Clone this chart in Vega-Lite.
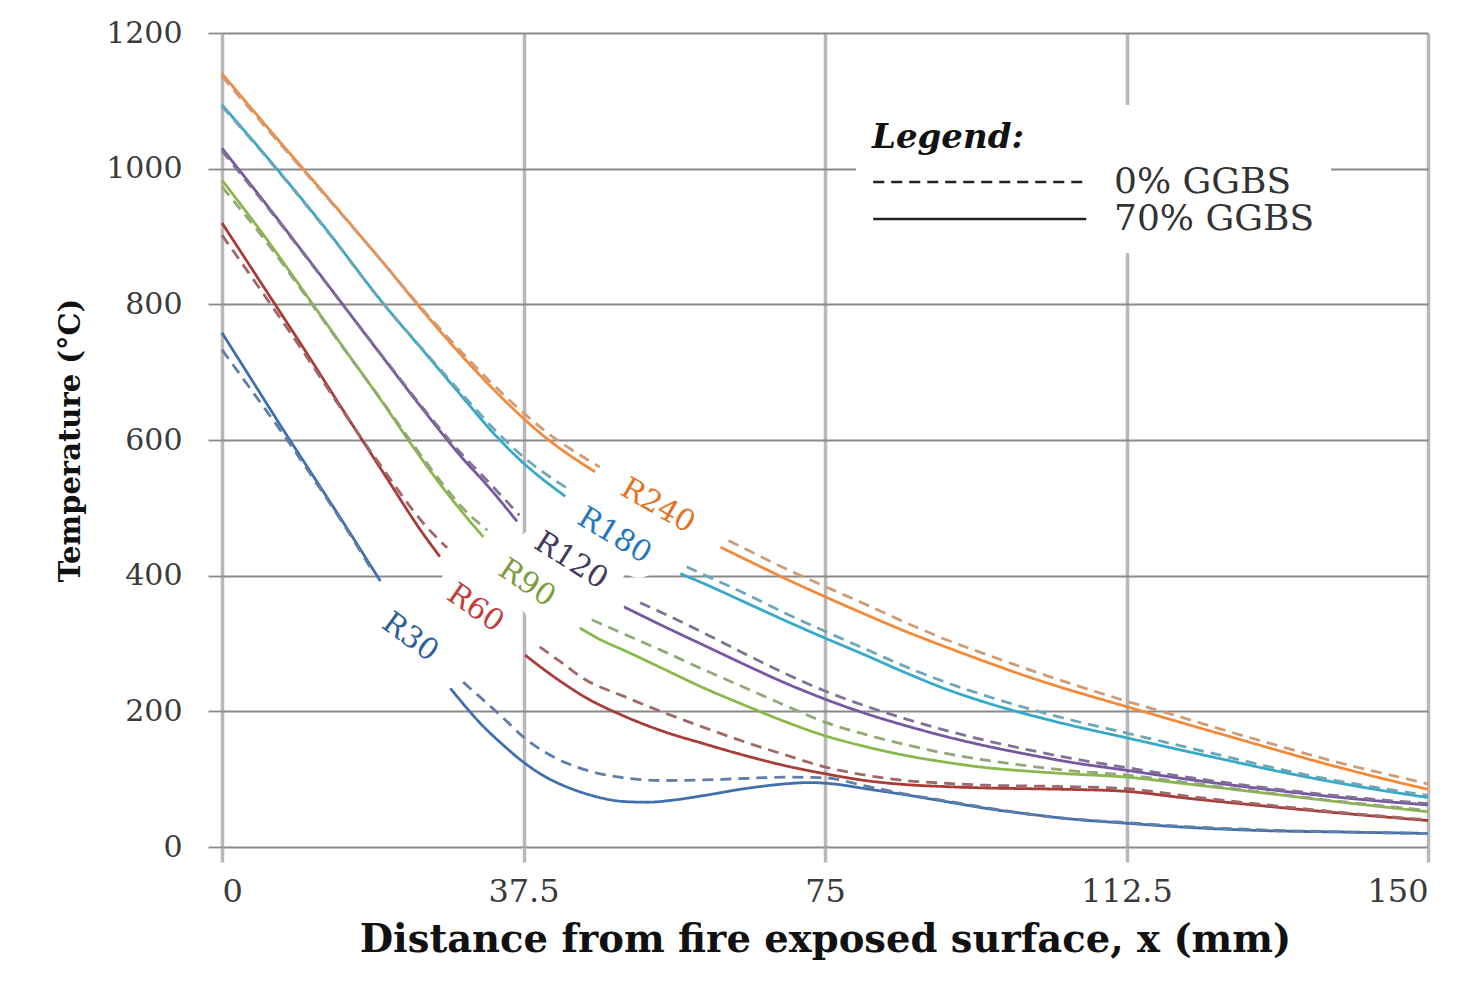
{
  "$schema": "https://vega.github.io/schema/vega-lite/v6.json",
  "width": 1206,
  "height": 814,
  "autosize": {"type": "none"},
  "padding": {"left": 222, "top": 33, "right": 50, "bottom": 141},
  "background": "white",
  "config": {
    "view": {"stroke": null},
    "font": "DejaVu Serif",
    "axisX": {
      "grid": true,
      "gridColor": "#b8b8b8",
      "gridWidth": 3.5,
      "tickColor": "#b8b8b8",
      "tickWidth": 3.5,
      "tickSize": 15,
      "domain": false,
      "labelFont": "DejaVu Serif",
      "labelFontSize": 32,
      "labelColor": "#3a3a3a",
      "labelPadding": 14,
      "titleFont": "DejaVu Serif",
      "titleFontSize": 38.5,
      "titleFontWeight": "bold",
      "titleColor": "#111111",
      "titlePadding": 14
    },
    "axisY": {
      "grid": true,
      "gridColor": "#8a8a8a",
      "gridWidth": 1.8,
      "tickColor": "#8a8a8a",
      "tickWidth": 1.8,
      "tickSize": 14,
      "domain": false,
      "labelFont": "DejaVu Serif",
      "labelFontSize": 30,
      "labelColor": "#3a3a3a",
      "labelPadding": 26,
      "titleFont": "DejaVu Serif",
      "titleFontSize": 29,
      "titleFontWeight": "bold",
      "titleColor": "#111111",
      "titlePadding": 20
    }
  },
  "datasets": {
    "labels": [
      {"s": "R240", "x": 54.2, "t": 503},
      {"s": "R180", "x": 48.8, "t": 459},
      {"s": "R120", "x": 43.4, "t": 422},
      {"s": "R90", "x": 37.9, "t": 389},
      {"s": "R60", "x": 31.5, "t": 352},
      {"s": "R30", "x": 23.4, "t": 309}
    ],
    "curves": [
      {"s": "R240", "m": "70% GGBS", "g": 1, "x": 0, "t": 1140},
      {"s": "R240", "m": "70% GGBS", "g": 1, "x": 5, "t": 1070},
      {"s": "R240", "m": "70% GGBS", "g": 1, "x": 10, "t": 1001},
      {"s": "R240", "m": "70% GGBS", "g": 1, "x": 15, "t": 932},
      {"s": "R240", "m": "70% GGBS", "g": 1, "x": 20, "t": 862},
      {"s": "R240", "m": "70% GGBS", "g": 1, "x": 25, "t": 790},
      {"s": "R240", "m": "70% GGBS", "g": 1, "x": 30, "t": 722},
      {"s": "R240", "m": "70% GGBS", "g": 1, "x": 35, "t": 660},
      {"s": "R240", "m": "70% GGBS", "g": 1, "x": 40, "t": 606},
      {"s": "R240", "m": "70% GGBS", "g": 1, "x": 46.4, "t": 553},
      {"s": "R240", "m": "0% GGBS", "g": 1, "x": 0, "t": 1136},
      {"s": "R240", "m": "0% GGBS", "g": 1, "x": 5, "t": 1067},
      {"s": "R240", "m": "0% GGBS", "g": 1, "x": 10, "t": 999},
      {"s": "R240", "m": "0% GGBS", "g": 1, "x": 15, "t": 931},
      {"s": "R240", "m": "0% GGBS", "g": 1, "x": 20, "t": 862},
      {"s": "R240", "m": "0% GGBS", "g": 1, "x": 25, "t": 792},
      {"s": "R240", "m": "0% GGBS", "g": 1, "x": 30, "t": 727},
      {"s": "R240", "m": "0% GGBS", "g": 1, "x": 35, "t": 667},
      {"s": "R240", "m": "0% GGBS", "g": 1, "x": 40, "t": 615},
      {"s": "R240", "m": "0% GGBS", "g": 1, "x": 47, "t": 560},
      {"s": "R240", "m": "70% GGBS", "g": 2, "x": 62, "t": 442},
      {"s": "R240", "m": "70% GGBS", "g": 2, "x": 66, "t": 419},
      {"s": "R240", "m": "70% GGBS", "g": 2, "x": 70, "t": 396},
      {"s": "R240", "m": "70% GGBS", "g": 2, "x": 75, "t": 369},
      {"s": "R240", "m": "70% GGBS", "g": 2, "x": 80, "t": 343},
      {"s": "R240", "m": "70% GGBS", "g": 2, "x": 85, "t": 318},
      {"s": "R240", "m": "70% GGBS", "g": 2, "x": 90, "t": 295},
      {"s": "R240", "m": "70% GGBS", "g": 2, "x": 95, "t": 273},
      {"s": "R240", "m": "70% GGBS", "g": 2, "x": 100, "t": 252},
      {"s": "R240", "m": "70% GGBS", "g": 2, "x": 105, "t": 233},
      {"s": "R240", "m": "70% GGBS", "g": 2, "x": 112.5, "t": 207},
      {"s": "R240", "m": "70% GGBS", "g": 2, "x": 120, "t": 181},
      {"s": "R240", "m": "70% GGBS", "g": 2, "x": 125, "t": 164},
      {"s": "R240", "m": "70% GGBS", "g": 2, "x": 130, "t": 147},
      {"s": "R240", "m": "70% GGBS", "g": 2, "x": 135, "t": 130},
      {"s": "R240", "m": "70% GGBS", "g": 2, "x": 140, "t": 114},
      {"s": "R240", "m": "70% GGBS", "g": 2, "x": 145, "t": 99},
      {"s": "R240", "m": "70% GGBS", "g": 2, "x": 150, "t": 85},
      {"s": "R240", "m": "0% GGBS", "g": 2, "x": 63, "t": 452},
      {"s": "R240", "m": "0% GGBS", "g": 2, "x": 66, "t": 434},
      {"s": "R240", "m": "0% GGBS", "g": 2, "x": 70, "t": 411},
      {"s": "R240", "m": "0% GGBS", "g": 2, "x": 75, "t": 384},
      {"s": "R240", "m": "0% GGBS", "g": 2, "x": 80, "t": 358},
      {"s": "R240", "m": "0% GGBS", "g": 2, "x": 85, "t": 331},
      {"s": "R240", "m": "0% GGBS", "g": 2, "x": 90, "t": 306},
      {"s": "R240", "m": "0% GGBS", "g": 2, "x": 95, "t": 284},
      {"s": "R240", "m": "0% GGBS", "g": 2, "x": 100, "t": 263},
      {"s": "R240", "m": "0% GGBS", "g": 2, "x": 105, "t": 243},
      {"s": "R240", "m": "0% GGBS", "g": 2, "x": 112.5, "t": 215},
      {"s": "R240", "m": "0% GGBS", "g": 2, "x": 120, "t": 189},
      {"s": "R240", "m": "0% GGBS", "g": 2, "x": 125, "t": 171},
      {"s": "R240", "m": "0% GGBS", "g": 2, "x": 130, "t": 154},
      {"s": "R240", "m": "0% GGBS", "g": 2, "x": 135, "t": 137},
      {"s": "R240", "m": "0% GGBS", "g": 2, "x": 140, "t": 121},
      {"s": "R240", "m": "0% GGBS", "g": 2, "x": 145, "t": 107},
      {"s": "R240", "m": "0% GGBS", "g": 2, "x": 150, "t": 93},

      {"s": "R180", "m": "70% GGBS", "g": 1, "x": 0, "t": 1094},
      {"s": "R180", "m": "70% GGBS", "g": 1, "x": 6.8, "t": 1000},
      {"s": "R180", "m": "70% GGBS", "g": 1, "x": 13, "t": 910},
      {"s": "R180", "m": "70% GGBS", "g": 1, "x": 20, "t": 802},
      {"s": "R180", "m": "70% GGBS", "g": 1, "x": 25, "t": 732},
      {"s": "R180", "m": "70% GGBS", "g": 1, "x": 30, "t": 662},
      {"s": "R180", "m": "70% GGBS", "g": 1, "x": 34, "t": 607},
      {"s": "R180", "m": "70% GGBS", "g": 1, "x": 37.5, "t": 566},
      {"s": "R180", "m": "70% GGBS", "g": 1, "x": 42.7, "t": 517},
      {"s": "R180", "m": "0% GGBS", "g": 1, "x": 0, "t": 1092},
      {"s": "R180", "m": "0% GGBS", "g": 1, "x": 6.8, "t": 999},
      {"s": "R180", "m": "0% GGBS", "g": 1, "x": 13, "t": 909},
      {"s": "R180", "m": "0% GGBS", "g": 1, "x": 20, "t": 802},
      {"s": "R180", "m": "0% GGBS", "g": 1, "x": 25, "t": 733},
      {"s": "R180", "m": "0% GGBS", "g": 1, "x": 30, "t": 666},
      {"s": "R180", "m": "0% GGBS", "g": 1, "x": 34, "t": 614},
      {"s": "R180", "m": "0% GGBS", "g": 1, "x": 37.5, "t": 575},
      {"s": "R180", "m": "0% GGBS", "g": 1, "x": 43.3, "t": 526},
      {"s": "R180", "m": "70% GGBS", "g": 2, "x": 57, "t": 403},
      {"s": "R180", "m": "70% GGBS", "g": 2, "x": 60, "t": 388},
      {"s": "R180", "m": "70% GGBS", "g": 2, "x": 65, "t": 361},
      {"s": "R180", "m": "70% GGBS", "g": 2, "x": 70, "t": 334},
      {"s": "R180", "m": "70% GGBS", "g": 2, "x": 75, "t": 308},
      {"s": "R180", "m": "70% GGBS", "g": 2, "x": 80, "t": 283},
      {"s": "R180", "m": "70% GGBS", "g": 2, "x": 85, "t": 257},
      {"s": "R180", "m": "70% GGBS", "g": 2, "x": 90, "t": 233},
      {"s": "R180", "m": "70% GGBS", "g": 2, "x": 95, "t": 213},
      {"s": "R180", "m": "70% GGBS", "g": 2, "x": 100, "t": 196},
      {"s": "R180", "m": "70% GGBS", "g": 2, "x": 105, "t": 181},
      {"s": "R180", "m": "70% GGBS", "g": 2, "x": 112.5, "t": 161},
      {"s": "R180", "m": "70% GGBS", "g": 2, "x": 120, "t": 141},
      {"s": "R180", "m": "70% GGBS", "g": 2, "x": 125, "t": 128},
      {"s": "R180", "m": "70% GGBS", "g": 2, "x": 130, "t": 115},
      {"s": "R180", "m": "70% GGBS", "g": 2, "x": 135, "t": 103},
      {"s": "R180", "m": "70% GGBS", "g": 2, "x": 140, "t": 92},
      {"s": "R180", "m": "70% GGBS", "g": 2, "x": 145, "t": 82},
      {"s": "R180", "m": "70% GGBS", "g": 2, "x": 150, "t": 73},
      {"s": "R180", "m": "0% GGBS", "g": 2, "x": 57.8, "t": 413},
      {"s": "R180", "m": "0% GGBS", "g": 2, "x": 60, "t": 401},
      {"s": "R180", "m": "0% GGBS", "g": 2, "x": 65, "t": 374},
      {"s": "R180", "m": "0% GGBS", "g": 2, "x": 70, "t": 345},
      {"s": "R180", "m": "0% GGBS", "g": 2, "x": 75, "t": 318},
      {"s": "R180", "m": "0% GGBS", "g": 2, "x": 80, "t": 292},
      {"s": "R180", "m": "0% GGBS", "g": 2, "x": 85, "t": 266},
      {"s": "R180", "m": "0% GGBS", "g": 2, "x": 90, "t": 243},
      {"s": "R180", "m": "0% GGBS", "g": 2, "x": 95, "t": 223},
      {"s": "R180", "m": "0% GGBS", "g": 2, "x": 100, "t": 205},
      {"s": "R180", "m": "0% GGBS", "g": 2, "x": 105, "t": 189},
      {"s": "R180", "m": "0% GGBS", "g": 2, "x": 112.5, "t": 168},
      {"s": "R180", "m": "0% GGBS", "g": 2, "x": 120, "t": 147},
      {"s": "R180", "m": "0% GGBS", "g": 2, "x": 125, "t": 133},
      {"s": "R180", "m": "0% GGBS", "g": 2, "x": 130, "t": 119},
      {"s": "R180", "m": "0% GGBS", "g": 2, "x": 135, "t": 106},
      {"s": "R180", "m": "0% GGBS", "g": 2, "x": 140, "t": 95},
      {"s": "R180", "m": "0% GGBS", "g": 2, "x": 145, "t": 85},
      {"s": "R180", "m": "0% GGBS", "g": 2, "x": 150, "t": 76},

      {"s": "R120", "m": "70% GGBS", "g": 1, "x": 0, "t": 1030},
      {"s": "R120", "m": "70% GGBS", "g": 1, "x": 5, "t": 955},
      {"s": "R120", "m": "70% GGBS", "g": 1, "x": 10, "t": 878},
      {"s": "R120", "m": "70% GGBS", "g": 1, "x": 15, "t": 800},
      {"s": "R120", "m": "70% GGBS", "g": 1, "x": 20, "t": 722},
      {"s": "R120", "m": "70% GGBS", "g": 1, "x": 25, "t": 645},
      {"s": "R120", "m": "70% GGBS", "g": 1, "x": 30, "t": 572},
      {"s": "R120", "m": "70% GGBS", "g": 1, "x": 33, "t": 533},
      {"s": "R120", "m": "70% GGBS", "g": 1, "x": 36.7, "t": 480},
      {"s": "R120", "m": "0% GGBS", "g": 1, "x": 0, "t": 1026},
      {"s": "R120", "m": "0% GGBS", "g": 1, "x": 5, "t": 953},
      {"s": "R120", "m": "0% GGBS", "g": 1, "x": 10, "t": 877},
      {"s": "R120", "m": "0% GGBS", "g": 1, "x": 15, "t": 800},
      {"s": "R120", "m": "0% GGBS", "g": 1, "x": 20, "t": 723},
      {"s": "R120", "m": "0% GGBS", "g": 1, "x": 25, "t": 647},
      {"s": "R120", "m": "0% GGBS", "g": 1, "x": 30, "t": 577},
      {"s": "R120", "m": "0% GGBS", "g": 1, "x": 33, "t": 540},
      {"s": "R120", "m": "0% GGBS", "g": 1, "x": 37, "t": 489},
      {"s": "R120", "m": "70% GGBS", "g": 2, "x": 50, "t": 354},
      {"s": "R120", "m": "70% GGBS", "g": 2, "x": 55, "t": 325},
      {"s": "R120", "m": "70% GGBS", "g": 2, "x": 60, "t": 297},
      {"s": "R120", "m": "70% GGBS", "g": 2, "x": 65, "t": 269},
      {"s": "R120", "m": "70% GGBS", "g": 2, "x": 70, "t": 242},
      {"s": "R120", "m": "70% GGBS", "g": 2, "x": 75, "t": 218},
      {"s": "R120", "m": "70% GGBS", "g": 2, "x": 80, "t": 197},
      {"s": "R120", "m": "70% GGBS", "g": 2, "x": 85, "t": 179},
      {"s": "R120", "m": "70% GGBS", "g": 2, "x": 90, "t": 163},
      {"s": "R120", "m": "70% GGBS", "g": 2, "x": 95, "t": 149},
      {"s": "R120", "m": "70% GGBS", "g": 2, "x": 100, "t": 137},
      {"s": "R120", "m": "70% GGBS", "g": 2, "x": 105, "t": 126},
      {"s": "R120", "m": "70% GGBS", "g": 2, "x": 112.5, "t": 113},
      {"s": "R120", "m": "70% GGBS", "g": 2, "x": 120, "t": 100},
      {"s": "R120", "m": "70% GGBS", "g": 2, "x": 130, "t": 85},
      {"s": "R120", "m": "70% GGBS", "g": 2, "x": 140, "t": 72},
      {"s": "R120", "m": "70% GGBS", "g": 2, "x": 150, "t": 62},
      {"s": "R120", "m": "0% GGBS", "g": 2, "x": 52, "t": 360},
      {"s": "R120", "m": "0% GGBS", "g": 2, "x": 55, "t": 344},
      {"s": "R120", "m": "0% GGBS", "g": 2, "x": 60, "t": 315},
      {"s": "R120", "m": "0% GGBS", "g": 2, "x": 65, "t": 285},
      {"s": "R120", "m": "0% GGBS", "g": 2, "x": 70, "t": 256},
      {"s": "R120", "m": "0% GGBS", "g": 2, "x": 75, "t": 230},
      {"s": "R120", "m": "0% GGBS", "g": 2, "x": 80, "t": 208},
      {"s": "R120", "m": "0% GGBS", "g": 2, "x": 85, "t": 189},
      {"s": "R120", "m": "0% GGBS", "g": 2, "x": 90, "t": 172},
      {"s": "R120", "m": "0% GGBS", "g": 2, "x": 95, "t": 157},
      {"s": "R120", "m": "0% GGBS", "g": 2, "x": 100, "t": 144},
      {"s": "R120", "m": "0% GGBS", "g": 2, "x": 105, "t": 132},
      {"s": "R120", "m": "0% GGBS", "g": 2, "x": 112.5, "t": 117},
      {"s": "R120", "m": "0% GGBS", "g": 2, "x": 120, "t": 103},
      {"s": "R120", "m": "0% GGBS", "g": 2, "x": 130, "t": 87},
      {"s": "R120", "m": "0% GGBS", "g": 2, "x": 140, "t": 74},
      {"s": "R120", "m": "0% GGBS", "g": 2, "x": 150, "t": 64},

      {"s": "R90", "m": "70% GGBS", "g": 1, "x": 0, "t": 983},
      {"s": "R90", "m": "70% GGBS", "g": 1, "x": 5, "t": 905},
      {"s": "R90", "m": "70% GGBS", "g": 1, "x": 11.3, "t": 800},
      {"s": "R90", "m": "70% GGBS", "g": 1, "x": 15, "t": 738},
      {"s": "R90", "m": "70% GGBS", "g": 1, "x": 20, "t": 655},
      {"s": "R90", "m": "70% GGBS", "g": 1, "x": 23, "t": 603},
      {"s": "R90", "m": "70% GGBS", "g": 1, "x": 27, "t": 537},
      {"s": "R90", "m": "70% GGBS", "g": 1, "x": 30, "t": 492},
      {"s": "R90", "m": "70% GGBS", "g": 1, "x": 32.5, "t": 457},
      {"s": "R90", "m": "0% GGBS", "g": 1, "x": 0, "t": 973},
      {"s": "R90", "m": "0% GGBS", "g": 1, "x": 5, "t": 900},
      {"s": "R90", "m": "0% GGBS", "g": 1, "x": 11.3, "t": 798},
      {"s": "R90", "m": "0% GGBS", "g": 1, "x": 15, "t": 737},
      {"s": "R90", "m": "0% GGBS", "g": 1, "x": 20, "t": 656},
      {"s": "R90", "m": "0% GGBS", "g": 1, "x": 23, "t": 606},
      {"s": "R90", "m": "0% GGBS", "g": 1, "x": 27, "t": 542},
      {"s": "R90", "m": "0% GGBS", "g": 1, "x": 30, "t": 499},
      {"s": "R90", "m": "0% GGBS", "g": 1, "x": 33, "t": 467},
      {"s": "R90", "m": "70% GGBS", "g": 2, "x": 44.5, "t": 323},
      {"s": "R90", "m": "70% GGBS", "g": 2, "x": 47, "t": 306},
      {"s": "R90", "m": "70% GGBS", "g": 2, "x": 50, "t": 290},
      {"s": "R90", "m": "70% GGBS", "g": 2, "x": 55, "t": 262},
      {"s": "R90", "m": "70% GGBS", "g": 2, "x": 60, "t": 234},
      {"s": "R90", "m": "70% GGBS", "g": 2, "x": 65, "t": 209},
      {"s": "R90", "m": "70% GGBS", "g": 2, "x": 70, "t": 185},
      {"s": "R90", "m": "70% GGBS", "g": 2, "x": 75, "t": 164},
      {"s": "R90", "m": "70% GGBS", "g": 2, "x": 80, "t": 148},
      {"s": "R90", "m": "70% GGBS", "g": 2, "x": 85, "t": 135},
      {"s": "R90", "m": "70% GGBS", "g": 2, "x": 90, "t": 125},
      {"s": "R90", "m": "70% GGBS", "g": 2, "x": 95, "t": 117},
      {"s": "R90", "m": "70% GGBS", "g": 2, "x": 100, "t": 112},
      {"s": "R90", "m": "70% GGBS", "g": 2, "x": 105, "t": 108},
      {"s": "R90", "m": "70% GGBS", "g": 2, "x": 112.5, "t": 103},
      {"s": "R90", "m": "70% GGBS", "g": 2, "x": 120, "t": 93},
      {"s": "R90", "m": "70% GGBS", "g": 2, "x": 130, "t": 79},
      {"s": "R90", "m": "70% GGBS", "g": 2, "x": 140, "t": 65},
      {"s": "R90", "m": "70% GGBS", "g": 2, "x": 150, "t": 52},
      {"s": "R90", "m": "0% GGBS", "g": 2, "x": 46, "t": 335},
      {"s": "R90", "m": "0% GGBS", "g": 2, "x": 50, "t": 314},
      {"s": "R90", "m": "0% GGBS", "g": 2, "x": 55, "t": 288},
      {"s": "R90", "m": "0% GGBS", "g": 2, "x": 60, "t": 261},
      {"s": "R90", "m": "0% GGBS", "g": 2, "x": 65, "t": 235},
      {"s": "R90", "m": "0% GGBS", "g": 2, "x": 70, "t": 209},
      {"s": "R90", "m": "0% GGBS", "g": 2, "x": 75, "t": 184},
      {"s": "R90", "m": "0% GGBS", "g": 2, "x": 80, "t": 166},
      {"s": "R90", "m": "0% GGBS", "g": 2, "x": 85, "t": 151},
      {"s": "R90", "m": "0% GGBS", "g": 2, "x": 90, "t": 138},
      {"s": "R90", "m": "0% GGBS", "g": 2, "x": 95, "t": 128},
      {"s": "R90", "m": "0% GGBS", "g": 2, "x": 100, "t": 120},
      {"s": "R90", "m": "0% GGBS", "g": 2, "x": 105, "t": 113},
      {"s": "R90", "m": "0% GGBS", "g": 2, "x": 112.5, "t": 106},
      {"s": "R90", "m": "0% GGBS", "g": 2, "x": 120, "t": 95},
      {"s": "R90", "m": "0% GGBS", "g": 2, "x": 130, "t": 80},
      {"s": "R90", "m": "0% GGBS", "g": 2, "x": 140, "t": 66},
      {"s": "R90", "m": "0% GGBS", "g": 2, "x": 150, "t": 54},

      {"s": "R60", "m": "70% GGBS", "g": 1, "x": 0, "t": 920},
      {"s": "R60", "m": "70% GGBS", "g": 1, "x": 5, "t": 829},
      {"s": "R60", "m": "70% GGBS", "g": 1, "x": 10, "t": 738},
      {"s": "R60", "m": "70% GGBS", "g": 1, "x": 15, "t": 645},
      {"s": "R60", "m": "70% GGBS", "g": 1, "x": 20, "t": 553},
      {"s": "R60", "m": "70% GGBS", "g": 1, "x": 25, "t": 462},
      {"s": "R60", "m": "70% GGBS", "g": 1, "x": 27.1, "t": 428},
      {"s": "R60", "m": "0% GGBS", "g": 1, "x": 0, "t": 902},
      {"s": "R60", "m": "0% GGBS", "g": 1, "x": 5, "t": 818},
      {"s": "R60", "m": "0% GGBS", "g": 1, "x": 10, "t": 732},
      {"s": "R60", "m": "0% GGBS", "g": 1, "x": 15, "t": 643},
      {"s": "R60", "m": "0% GGBS", "g": 1, "x": 20, "t": 558},
      {"s": "R60", "m": "0% GGBS", "g": 1, "x": 25, "t": 478},
      {"s": "R60", "m": "0% GGBS", "g": 1, "x": 28, "t": 441},
      {"s": "R60", "m": "70% GGBS", "g": 2, "x": 37.7, "t": 283},
      {"s": "R60", "m": "70% GGBS", "g": 2, "x": 40, "t": 262},
      {"s": "R60", "m": "70% GGBS", "g": 2, "x": 42.5, "t": 241},
      {"s": "R60", "m": "70% GGBS", "g": 2, "x": 45, "t": 222},
      {"s": "R60", "m": "70% GGBS", "g": 2, "x": 50, "t": 193},
      {"s": "R60", "m": "70% GGBS", "g": 2, "x": 55, "t": 170},
      {"s": "R60", "m": "70% GGBS", "g": 2, "x": 60, "t": 152},
      {"s": "R60", "m": "70% GGBS", "g": 2, "x": 65, "t": 135},
      {"s": "R60", "m": "70% GGBS", "g": 2, "x": 70, "t": 120},
      {"s": "R60", "m": "70% GGBS", "g": 2, "x": 75, "t": 108},
      {"s": "R60", "m": "70% GGBS", "g": 2, "x": 80, "t": 98},
      {"s": "R60", "m": "70% GGBS", "g": 2, "x": 85, "t": 92},
      {"s": "R60", "m": "70% GGBS", "g": 2, "x": 90, "t": 89},
      {"s": "R60", "m": "70% GGBS", "g": 2, "x": 95, "t": 87},
      {"s": "R60", "m": "70% GGBS", "g": 2, "x": 100, "t": 86},
      {"s": "R60", "m": "70% GGBS", "g": 2, "x": 105, "t": 85},
      {"s": "R60", "m": "70% GGBS", "g": 2, "x": 112.5, "t": 82},
      {"s": "R60", "m": "70% GGBS", "g": 2, "x": 120, "t": 72},
      {"s": "R60", "m": "70% GGBS", "g": 2, "x": 130, "t": 60},
      {"s": "R60", "m": "70% GGBS", "g": 2, "x": 140, "t": 49},
      {"s": "R60", "m": "70% GGBS", "g": 2, "x": 150, "t": 39},
      {"s": "R60", "m": "0% GGBS", "g": 2, "x": 39.5, "t": 295},
      {"s": "R60", "m": "0% GGBS", "g": 2, "x": 42, "t": 274},
      {"s": "R60", "m": "0% GGBS", "g": 2, "x": 45, "t": 248},
      {"s": "R60", "m": "0% GGBS", "g": 2, "x": 50, "t": 222},
      {"s": "R60", "m": "0% GGBS", "g": 2, "x": 55, "t": 198},
      {"s": "R60", "m": "0% GGBS", "g": 2, "x": 60, "t": 176},
      {"s": "R60", "m": "0% GGBS", "g": 2, "x": 65, "t": 155},
      {"s": "R60", "m": "0% GGBS", "g": 2, "x": 70, "t": 136},
      {"s": "R60", "m": "0% GGBS", "g": 2, "x": 75, "t": 118},
      {"s": "R60", "m": "0% GGBS", "g": 2, "x": 80, "t": 106},
      {"s": "R60", "m": "0% GGBS", "g": 2, "x": 85, "t": 98},
      {"s": "R60", "m": "0% GGBS", "g": 2, "x": 90, "t": 94},
      {"s": "R60", "m": "0% GGBS", "g": 2, "x": 95, "t": 91},
      {"s": "R60", "m": "0% GGBS", "g": 2, "x": 100, "t": 90},
      {"s": "R60", "m": "0% GGBS", "g": 2, "x": 105, "t": 89},
      {"s": "R60", "m": "0% GGBS", "g": 2, "x": 112.5, "t": 86},
      {"s": "R60", "m": "0% GGBS", "g": 2, "x": 120, "t": 75},
      {"s": "R60", "m": "0% GGBS", "g": 2, "x": 130, "t": 62},
      {"s": "R60", "m": "0% GGBS", "g": 2, "x": 140, "t": 50},
      {"s": "R60", "m": "0% GGBS", "g": 2, "x": 150, "t": 40},

      {"s": "R30", "m": "70% GGBS", "g": 1, "x": 0, "t": 758},
      {"s": "R30", "m": "70% GGBS", "g": 1, "x": 4, "t": 683},
      {"s": "R30", "m": "70% GGBS", "g": 1, "x": 8, "t": 608},
      {"s": "R30", "m": "70% GGBS", "g": 1, "x": 12, "t": 535},
      {"s": "R30", "m": "70% GGBS", "g": 1, "x": 15, "t": 480},
      {"s": "R30", "m": "70% GGBS", "g": 1, "x": 19.7, "t": 392},
      {"s": "R30", "m": "0% GGBS", "g": 1, "x": 0, "t": 733},
      {"s": "R30", "m": "0% GGBS", "g": 1, "x": 4, "t": 668},
      {"s": "R30", "m": "0% GGBS", "g": 1, "x": 8, "t": 602},
      {"s": "R30", "m": "0% GGBS", "g": 1, "x": 12, "t": 532},
      {"s": "R30", "m": "0% GGBS", "g": 1, "x": 15, "t": 478},
      {"s": "R30", "m": "0% GGBS", "g": 1, "x": 18.8, "t": 405},
      {"s": "R30", "m": "70% GGBS", "g": 2, "x": 28.4, "t": 234},
      {"s": "R30", "m": "70% GGBS", "g": 2, "x": 30, "t": 211},
      {"s": "R30", "m": "70% GGBS", "g": 2, "x": 32, "t": 184},
      {"s": "R30", "m": "70% GGBS", "g": 2, "x": 35, "t": 150},
      {"s": "R30", "m": "70% GGBS", "g": 2, "x": 37.5, "t": 125},
      {"s": "R30", "m": "70% GGBS", "g": 2, "x": 40, "t": 105},
      {"s": "R30", "m": "70% GGBS", "g": 2, "x": 43, "t": 88},
      {"s": "R30", "m": "70% GGBS", "g": 2, "x": 46, "t": 76},
      {"s": "R30", "m": "70% GGBS", "g": 2, "x": 50, "t": 67},
      {"s": "R30", "m": "70% GGBS", "g": 2, "x": 53, "t": 66},
      {"s": "R30", "m": "70% GGBS", "g": 2, "x": 56, "t": 69},
      {"s": "R30", "m": "70% GGBS", "g": 2, "x": 60, "t": 76},
      {"s": "R30", "m": "70% GGBS", "g": 2, "x": 65, "t": 86},
      {"s": "R30", "m": "70% GGBS", "g": 2, "x": 70, "t": 93},
      {"s": "R30", "m": "70% GGBS", "g": 2, "x": 73, "t": 95},
      {"s": "R30", "m": "70% GGBS", "g": 2, "x": 76, "t": 93},
      {"s": "R30", "m": "70% GGBS", "g": 2, "x": 80, "t": 86},
      {"s": "R30", "m": "70% GGBS", "g": 2, "x": 85, "t": 77},
      {"s": "R30", "m": "70% GGBS", "g": 2, "x": 90, "t": 67},
      {"s": "R30", "m": "70% GGBS", "g": 2, "x": 95, "t": 57},
      {"s": "R30", "m": "70% GGBS", "g": 2, "x": 100, "t": 49},
      {"s": "R30", "m": "70% GGBS", "g": 2, "x": 105, "t": 42},
      {"s": "R30", "m": "70% GGBS", "g": 2, "x": 112.5, "t": 35},
      {"s": "R30", "m": "70% GGBS", "g": 2, "x": 120, "t": 29},
      {"s": "R30", "m": "70% GGBS", "g": 2, "x": 130, "t": 24},
      {"s": "R30", "m": "70% GGBS", "g": 2, "x": 140, "t": 22},
      {"s": "R30", "m": "70% GGBS", "g": 2, "x": 150, "t": 20},
      {"s": "R30", "m": "0% GGBS", "g": 2, "x": 30, "t": 243},
      {"s": "R30", "m": "0% GGBS", "g": 2, "x": 32, "t": 222},
      {"s": "R30", "m": "0% GGBS", "g": 2, "x": 35, "t": 190},
      {"s": "R30", "m": "0% GGBS", "g": 2, "x": 37.5, "t": 162},
      {"s": "R30", "m": "0% GGBS", "g": 2, "x": 40, "t": 141},
      {"s": "R30", "m": "0% GGBS", "g": 2, "x": 43, "t": 123},
      {"s": "R30", "m": "0% GGBS", "g": 2, "x": 46, "t": 111},
      {"s": "R30", "m": "0% GGBS", "g": 2, "x": 50, "t": 102},
      {"s": "R30", "m": "0% GGBS", "g": 2, "x": 55, "t": 98},
      {"s": "R30", "m": "0% GGBS", "g": 2, "x": 60, "t": 99},
      {"s": "R30", "m": "0% GGBS", "g": 2, "x": 65, "t": 101},
      {"s": "R30", "m": "0% GGBS", "g": 2, "x": 70, "t": 103},
      {"s": "R30", "m": "0% GGBS", "g": 2, "x": 75, "t": 102},
      {"s": "R30", "m": "0% GGBS", "g": 2, "x": 80, "t": 90},
      {"s": "R30", "m": "0% GGBS", "g": 2, "x": 85, "t": 78},
      {"s": "R30", "m": "0% GGBS", "g": 2, "x": 90, "t": 68},
      {"s": "R30", "m": "0% GGBS", "g": 2, "x": 95, "t": 58},
      {"s": "R30", "m": "0% GGBS", "g": 2, "x": 100, "t": 49},
      {"s": "R30", "m": "0% GGBS", "g": 2, "x": 105, "t": 42},
      {"s": "R30", "m": "0% GGBS", "g": 2, "x": 112.5, "t": 36},
      {"s": "R30", "m": "0% GGBS", "g": 2, "x": 120, "t": 30},
      {"s": "R30", "m": "0% GGBS", "g": 2, "x": 130, "t": 25},
      {"s": "R30", "m": "0% GGBS", "g": 2, "x": 140, "t": 22},
      {"s": "R30", "m": "0% GGBS", "g": 2, "x": 150, "t": 20}
    ]
  },
  "layer": [
    {
      "description": "White halo behind each curve label, hiding the grid under it",
      "data": {"name": "labels"},
      "mark": {"type": "text", "font": "DejaVu Serif", "fontSize": 30, "fill": "white", "stroke": "white", "strokeWidth": 34, "strokeJoin": "round", "align": "center", "baseline": "middle"},
      "encoding": {
        "x": {"field": "x", "type": "quantitative", "scale": {"domain": [0, 150], "nice": false}, "title": "Distance from fire exposed surface, x (mm)"},
        "y": {"field": "t", "type": "quantitative", "scale": {"domain": [0, 1200], "nice": false}, "title": "Temperature (°C)"},
        "text": {"field": "s"},
        "angle": {"field": "s", "type": "nominal", "scale": {"domain": ["R240", "R180", "R120", "R90", "R60", "R30"], "range": [30, 36, 37, 39, 42, 46]}, "legend": null}
      }
    },
    {
      "description": "Temperature profiles; solid = 70% GGBS, dashed = 0% GGBS",
      "data": {"name": "curves"},
      "transform": [{"calculate": "datum.s + ' ' + datum.m", "as": "curve"}],
      "mark": {"type": "line", "interpolate": "monotone", "strokeWidth": 2.8, "strokeCap": "butt"},
      "encoding": {
        "x": {
          "field": "x", "type": "quantitative",
          "scale": {"domain": [0, 150], "nice": false},
          "title": "Distance from fire exposed surface, x (mm)",
          "axis": {"values": [0, 37.5, 75, 112.5, 150], "format": ".1~f"}
        },
        "y": {
          "field": "t", "type": "quantitative",
          "scale": {"domain": [0, 1200], "nice": false},
          "title": "Temperature (°C)",
          "axis": {"values": [0, 200, 400, 600, 800, 1000, 1200], "format": "d"}
        },
        "detail": {"field": "g", "type": "nominal"},
        "color": {
          "field": "curve",
          "type": "nominal",
          "legend": null,
          "scale": {
            "domain": ["R240 70% GGBS", "R240 0% GGBS", "R180 70% GGBS", "R180 0% GGBS", "R120 70% GGBS", "R120 0% GGBS", "R90 70% GGBS", "R90 0% GGBS", "R60 70% GGBS", "R60 0% GGBS", "R30 70% GGBS", "R30 0% GGBS"],
            "range": ["#f28a3a", "#cf9c78", "#36a9c9", "#6ea6b6", "#7757a0", "#807296", "#8ab84a", "#93a878", "#a83c38", "#a06866", "#3f6fae", "#5f7ea8"]
          }
        },
        "strokeDash": {
          "field": "m",
          "type": "nominal",
          "scale": {"domain": ["0% GGBS", "70% GGBS"], "range": [[11, 7], [1, 0]]},
          "legend": {
            "title": "Legend:",
            "orient": "none",
            "legendX": 634,
            "legendY": 72,
            "direction": "vertical",
            "fillColor": "white",
            "padding": 16,
            "symbolType": "M-1,0H11",
            "symbolSize": 1260,
            "symbolStrokeWidth": 2.5,
            "symbolStrokeColor": "#222222",
            "labelFont": "DejaVu Serif",
            "labelFontSize": 36,
            "labelColor": "#333333",
            "labelOffset": 204,
            "labelLimit": 500,
            "titleFont": "DejaVu Serif",
            "titleFontSize": 34,
            "titleFontStyle": "italic",
            "titleFontWeight": "bold",
            "titleColor": "#111111",
            "titlePadding": 8,
            "titleLimit": 400,
            "rowPadding": 0
          }
        }
      }
    },
    {
      "description": "Fire-rating labels set in the gap of each curve",
      "data": {"name": "labels"},
      "mark": {"type": "text", "font": "DejaVu Serif", "fontSize": 30, "align": "center", "baseline": "middle"},
      "encoding": {
        "x": {"field": "x", "type": "quantitative", "scale": {"domain": [0, 150], "nice": false}, "title": "Distance from fire exposed surface, x (mm)"},
        "y": {"field": "t", "type": "quantitative", "scale": {"domain": [0, 1200], "nice": false}, "title": "Temperature (°C)"},
        "text": {"field": "s"},
        "angle": {"field": "s", "type": "nominal", "scale": {"domain": ["R240", "R180", "R120", "R90", "R60", "R30"], "range": [30, 36, 37, 39, 42, 46]}, "legend": null},
        "color": {
          "field": "s",
          "type": "nominal",
          "legend": null,
          "scale": {"domain": ["R240", "R180", "R120", "R90", "R60", "R30"], "range": ["#e3731f", "#1f78c1", "#433a5c", "#7d9d3e", "#c0413c", "#2f5f9a"]}
        }
      }
    }
  ],
  "resolve": {"scale": {"color": "independent"}}
}
